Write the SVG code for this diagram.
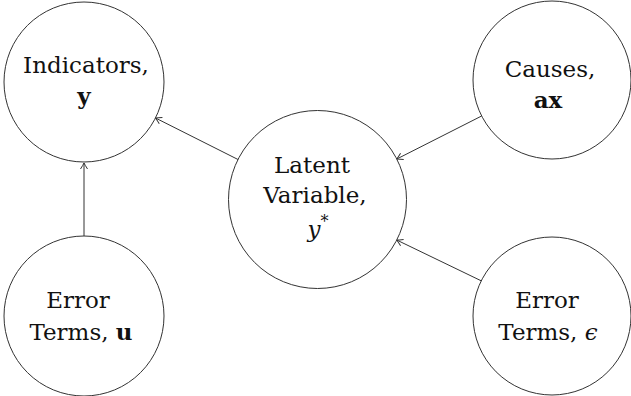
<svg xmlns="http://www.w3.org/2000/svg" width="631" height="396" viewBox="0 0 631 396">
<style>
.n{fill:#fff;stroke:#333;stroke-width:1}
text{font-family:'DejaVu Serif',serif;font-size:23px;fill:#111;text-anchor:middle}
.b{font-weight:bold}
.i{font-style:italic}
.e line{stroke:#333;stroke-width:1;marker-end:url(#ah)}
</style>
<defs>
<marker id="ah" viewBox="-8 -5 10 10" refX="0" refY="0" markerWidth="10" markerHeight="10" markerUnits="userSpaceOnUse" orient="auto">
<path d="M-6,-3.5 Q-2,-1 0,0 Q-2,1 -6,3.5" fill="none" stroke="#333" stroke-width="1"/>
</marker>
</defs>
<rect width="631" height="396" fill="#fff"/>
<g class="e" id="connectors">
<line x1="84" y1="236" x2="84" y2="163"/>
<line x1="238" y1="159.5" x2="155.5" y2="118"/>
<line x1="481.6" y1="116" x2="396.8" y2="159"/>
<line x1="481.2" y1="280.8" x2="396.7" y2="240"/>
</g>
<g id="indicators">
<circle class="n" cx="84" cy="82" r="80"/>
<text x="86" y="73">Indicators,</text>
<text class="b" x="84" y="104">y</text>
</g>
<g id="latent">
<circle class="n" cx="317.5" cy="199.5" r="89"/>
<text x="312" y="173">Latent</text>
<text x="315" y="203">Variable,</text>
<text x="318" y="237"><tspan class="i">y</tspan><tspan font-size="16" dy="-10">*</tspan></text>
</g>
<g id="causes">
<circle class="n" cx="552" cy="80" r="79"/>
<text x="550" y="77">Causes,</text>
<text class="b" x="548" y="108">ax</text>
</g>
<g id="error-u">
<circle class="n" cx="84" cy="316" r="80"/>
<text x="78" y="308">Error</text>
<text x="81" y="340">Terms, <tspan class="b">u</tspan></text>
</g>
<g id="error-eps">
<circle class="n" cx="552" cy="316" r="79"/>
<text x="547" y="308">Error</text>
<text x="548" y="340">Terms, <tspan class="i">ϵ</tspan></text>
</g>
</svg>
